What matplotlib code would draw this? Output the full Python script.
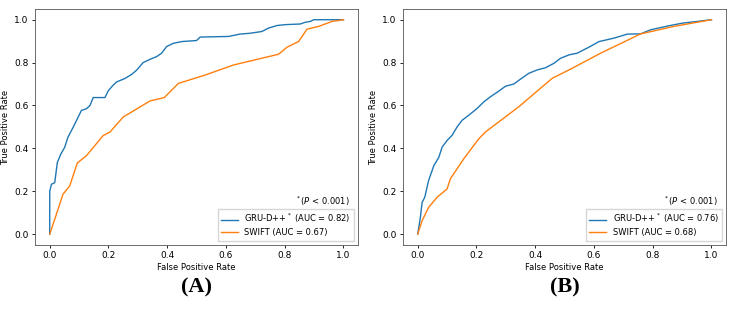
import numpy as np
import matplotlib.pyplot as plt

# ROC points, panel A
fpr_gru_a = [0, 0, 0.006, 0.017, 0.026, 0.038, 0.051, 0.062, 0.08, 0.094, 0.108, 0.125, 0.137,
             0.148, 0.188, 0.199, 0.216, 0.228, 0.256, 0.279, 0.296, 0.318, 0.341, 0.364, 0.381,
             0.398, 0.421, 0.449, 0.5, 0.512, 0.609, 0.648, 0.683, 0.722, 0.745, 0.774, 0.802,
             0.853, 0.87, 0.887, 0.899, 1.0]
tpr_gru_a = [0, 0.2, 0.233, 0.24, 0.335, 0.374, 0.405, 0.452, 0.499, 0.538, 0.577, 0.585, 0.6,
             0.637, 0.637, 0.668, 0.695, 0.71, 0.726, 0.745, 0.765, 0.8, 0.815, 0.828, 0.844,
             0.875, 0.89, 0.898, 0.903, 0.919, 0.922, 0.933, 0.937, 0.945, 0.961, 0.973, 0.977,
             0.98, 0.988, 0.992, 1.0, 1.0]
fpr_swift_a = [0, 0.017, 0.045, 0.068, 0.094, 0.125, 0.182, 0.205, 0.25, 0.341, 0.39, 0.438,
               0.529, 0.626, 0.779, 0.808, 0.847, 0.876, 0.916, 0.961, 1.0]
tpr_swift_a = [0, 0.069, 0.186, 0.225, 0.332, 0.366, 0.46, 0.476, 0.546, 0.621, 0.637, 0.703,
               0.742, 0.789, 0.839, 0.872, 0.898, 0.956, 0.969, 0.992, 1.0]

# panel B
fpr_gru_b = [0, 0.009, 0.015, 0.024, 0.037, 0.055, 0.072, 0.083, 0.1, 0.117, 0.134, 0.151,
             0.174, 0.202, 0.225, 0.248, 0.276, 0.299, 0.327, 0.35, 0.378, 0.407, 0.435, 0.464,
             0.486, 0.515, 0.543, 0.583, 0.617, 0.668, 0.714, 0.759, 0.793, 0.856, 0.901, 0.952, 1.0]
tpr_gru_b = [0, 0.078, 0.148, 0.172, 0.25, 0.32, 0.359, 0.406, 0.437, 0.461, 0.5, 0.531,
             0.555, 0.586, 0.617, 0.641, 0.667, 0.69, 0.7, 0.723, 0.75, 0.766, 0.776, 0.797,
             0.82, 0.836, 0.844, 0.872, 0.898, 0.914, 0.933, 0.934, 0.953, 0.972, 0.984, 0.992, 1.0]
fpr_swift_b = [0, 0.015, 0.037, 0.066, 0.1, 0.111, 0.157, 0.208, 0.231, 0.344, 0.458, 0.515,
               0.623, 0.759, 0.873, 1.0]
tpr_swift_b = [0, 0.063, 0.125, 0.172, 0.211, 0.258, 0.352, 0.445, 0.477, 0.594, 0.727, 0.766,
               0.844, 0.934, 0.969, 1.0]

auc_gru = [0.82, 0.76]
auc_swift = [0.67, 0.68]
panel_labels = ['(A)', '(B)']

fig = plt.figure(figsize=(7.36, 3.10), dpi=100)
axes = [fig.add_axes([0.0476, 0.21, 0.439, 0.761]),
        fig.add_axes([0.5476, 0.21, 0.439, 0.761])]

curves = [(fpr_gru_a, tpr_gru_a, fpr_swift_a, tpr_swift_a),
          (fpr_gru_b, tpr_gru_b, fpr_swift_b, tpr_swift_b)]

for i, ax in enumerate(axes):
    fg, tg, fs, ts = curves[i]
    ax.plot(fg, tg, color='#1f77b4', lw=1.0,
            label=f'GRU-D++$^*$ (AUC = {auc_gru[i]:.2f})')
    ax.plot(fs, ts, color='#ff7f0e', lw=1.0,
            label=f'SWIFT (AUC = {auc_swift[i]:.2f})')
    ax.set_xlabel('False Positive Rate', fontsize=6, labelpad=2)
    ax.set_ylabel('True Positive Rate', fontsize=6, labelpad=3)
    ax.tick_params(labelsize=6.5, length=2.5, width=0.6, pad=2)
    for s in ax.spines.values():
        s.set_linewidth(0.6)
        s.set_color('#555555')
    ax.legend(loc='lower right', fontsize=6, frameon=True, fancybox=False,
              borderpad=0.4, labelspacing=0.35, handlelength=2.0, edgecolor='#cccccc')
    ax.text(0.975, 0.185, '$^*$($P$ < 0.001)', transform=ax.transAxes,
            ha='right', va='center', fontsize=6)
    ax.text(0.5, -0.18, panel_labels[i], transform=ax.transAxes, ha='center', va='center',
            fontsize=16, fontweight='bold', family='Liberation Serif')

fig.savefig('out.png', dpi=100)
